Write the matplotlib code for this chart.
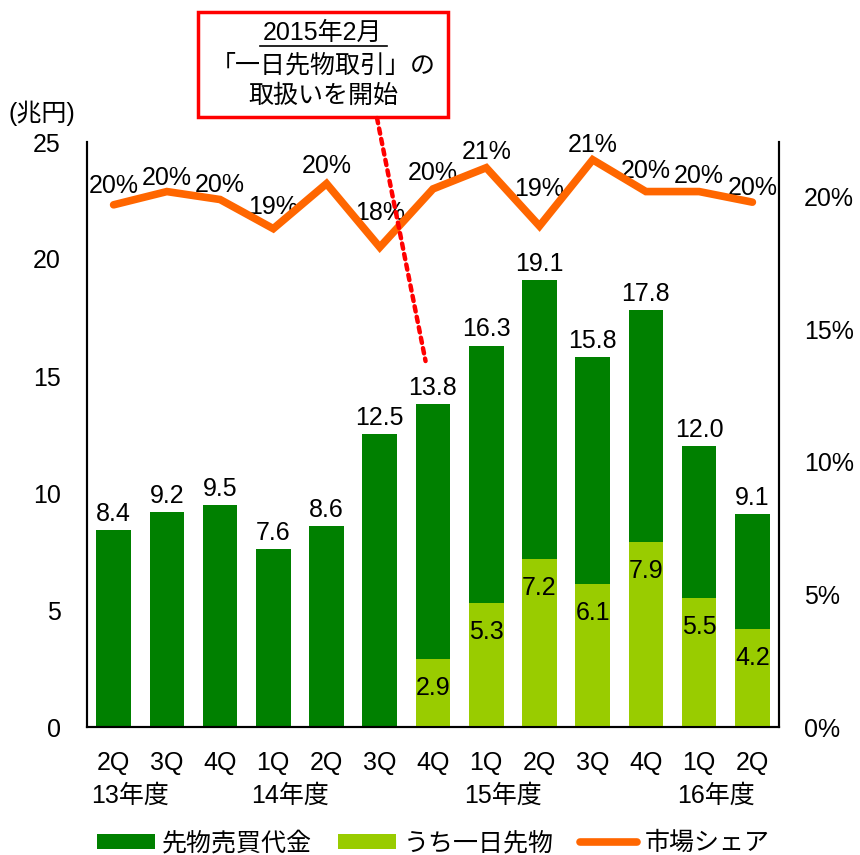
#! /usr/bin/env python3
# Futures trading value and market share by quarter (bars + share line)

import matplotlib
matplotlib.use("Agg")
import matplotlib.pyplot as plt
from matplotlib.patches import Patch, Rectangle
from matplotlib.lines import Line2D

plt.rcParams['font.family'] = ['Liberation Sans', 'Noto Sans CJK JP', 'DejaVu Sans']

# data
quarters = ["2Q", "3Q", "4Q", "1Q", "2Q", "3Q", "4Q", "1Q", "2Q", "3Q", "4Q", "1Q", "2Q"]
years = {0: "13年度", 3: "14年度", 7: "15年度", 11: "16年度"}
total_value = [8.4, 9.2, 9.5, 7.6, 8.6, 12.5, 13.8, 16.3, 19.1, 15.8, 17.8, 12.0, 9.1]
daily_value = [None, None, None, None, None, None, 2.9, 5.3, 7.2, 6.1, 7.9, 5.5, 4.2]
market_share = [19.7, 20.2, 19.9, 18.8, 20.5, 18.1, 20.3, 21.1, 18.9, 21.4, 20.2, 20.2, 19.8]

# how far (px) each share label sits above its point
share_label_dy = [19, 14, 15, 22, 18, 34, 16, 16, 37, 15, 21, 16, 14]

DARK = "#008000"
LIGHT = "#99CC00"
ORANGE = "#FF6600"
FS = 18

fig = plt.figure(figsize=(8.6, 8.55), dpi=100)
ax = fig.add_axes([87 / 860, 1 - 727 / 855, (779 - 87) / 860, (727 - 142) / 855])
x = list(range(len(quarters)))

# total bars (dark) then the one-day futures part on top (light)
ax.bar(x, total_value, width=0.65, color=DARK, zorder=2)
for i, v in enumerate(daily_value):
    if v is not None:
        ax.bar(i, v, width=0.65, color=LIGHT, zorder=3)
        ax.annotate(f"{v:.1f}", (i, v), xytext=(0, -21), textcoords="offset points",
                    ha="center", va="center", fontsize=FS, zorder=4)

for i, v in enumerate(total_value):
    ax.annotate(f"{v:.1f}", (i, v), xytext=(0, 3), textcoords="offset points",
                ha="center", va="bottom", fontsize=FS)

ax.set_xlim(-0.5, 12.5)
ax.set_ylim(0, 25)
ax.set_yticks([0, 5, 10, 15, 20, 25])
ax.set_xticks(x)
ax.set_xticklabels(quarters)
ax.tick_params(axis="both", length=0, labelsize=FS)
ax.tick_params(axis="y", pad=19)
ax.tick_params(axis="x", pad=17)
ax.spines["top"].set_visible(False)
for s in ["left", "right", "bottom"]:
    ax.spines[s].set_linewidth(1.5)

# fiscal year labels under the quarters
for i, label in years.items():
    ax.text(i - 0.42, -0.118, label, transform=ax.get_xaxis_transform(),
            ha="left", va="center", fontsize=FS)

# market share on the right axis
ax2 = ax.twinx()
ax2.plot(x, market_share, color=ORANGE, lw=5.5, solid_capstyle="round",
         solid_joinstyle="miter", zorder=5)
for i, v in enumerate(market_share):
    ax2.annotate(f"{round(v):.0f}%", (i, v), xytext=(0, share_label_dy[i] * 0.72),
                 textcoords="offset points", ha="center", va="center", fontsize=FS)
ax2.set_ylim(0, 22.07)
ax2.set_yticks([0, 5, 10, 15, 20])
ax2.set_yticklabels([f"{t}%" for t in [0, 5, 10, 15, 20]])
ax2.tick_params(axis="y", length=0, labelsize=FS, pad=18)
ax2.spines["top"].set_visible(False)
for s in ["left", "right", "bottom"]:
    ax2.spines[s].set_linewidth(1.5)

fig.text(9 / 860, 1 - 113 / 855, "(兆円)", fontsize=FS, ha="left", va="center")

# callout box
W, H = 860, 855
fig.add_artist(Rectangle((198 / W, 1 - 117 / H), (448 - 198) / W, (117 - 12) / H,
                         transform=fig.transFigure, fill=False, edgecolor="#FF0000",
                         lw=2.5, zorder=10))
fig.text(323 / W, 1 - 33 / H, "2015年2月", fontsize=FS, ha="center", va="center")
fig.add_artist(Line2D([260 / W, 387 / W], [1 - 46 / H, 1 - 46 / H],
                      transform=fig.transFigure, color="black", lw=1.2))
fig.text(323 / W, 1 - 65 / H, "「一日先物取引」の", fontsize=FS, ha="center", va="center")
fig.text(323 / W, 1 - 96 / H, "取扱いを開始", fontsize=FS, ha="center", va="center")
ax2.annotate("", xy=(5.86, 15.64 * 22.07 / 25), xycoords="data",
             xytext=(377 / W, 1 - 118 / H), textcoords="figure fraction",
             arrowprops=dict(arrowstyle="-", color="#FF0000", lw=3.2,
                             linestyle=(0, (1.2, 1.2)), shrinkA=0, shrinkB=0),
             zorder=10)

# legend
handles = [Patch(facecolor=DARK, edgecolor="none", label="先物売買代金"),
           Patch(facecolor=LIGHT, edgecolor="none", label="うち一日先物"),
           Line2D([], [], color=ORANGE, lw=5.5, solid_capstyle="round", label="市場シェア")]
fig.legend(handles=handles, loc="center", bbox_to_anchor=(0.504, 1 - 843 / H), ncol=3,
           frameon=False, fontsize=FS, handlelength=2.3, handleheight=0.55,
           handletextpad=0.3, columnspacing=1.05, borderpad=0)

fig.savefig("out.png", dpi=100)
